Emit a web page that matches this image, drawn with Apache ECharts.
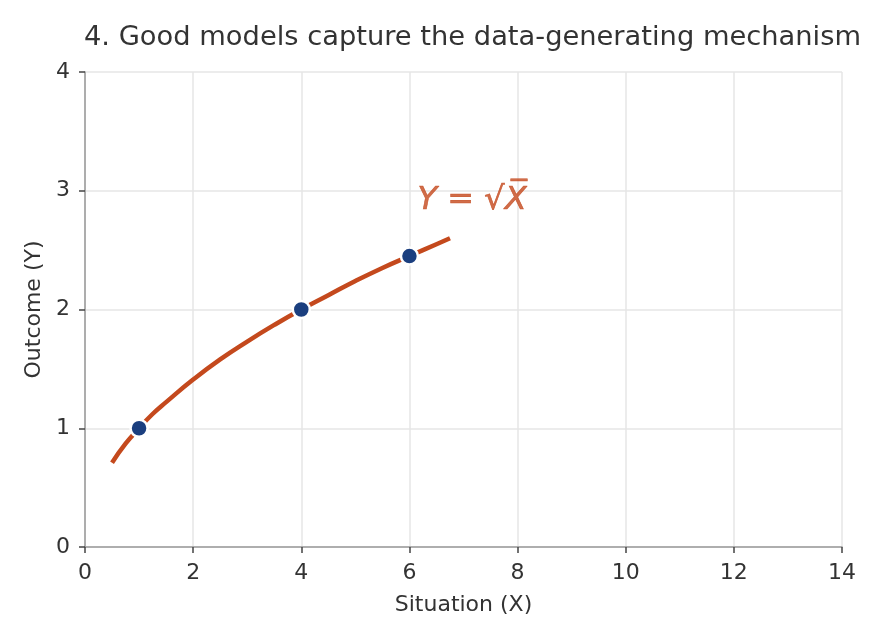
<!DOCTYPE html>
<html>
<head>
<meta charset="utf-8">
<script src="https://cdn.jsdelivr.net/npm/echarts@6/dist/echarts.min.js"></script>
<style>
  html, body { margin: 0; padding: 0; background: #fff; }
  #chart { width: 880px; height: 640px; }
</style>
</head>
<body>
<div id="chart"></div>
<script>
// curve Y = sqrt(X)
const curveX = [0.5, 0.75, 1, 1.25, 1.5, 2, 2.5, 3, 3.5, 4, 4.5, 5, 5.5, 6, 6.5, 6.75];
const curveY = [0.71, 0.87, 1.0, 1.12, 1.22, 1.41, 1.58, 1.73, 1.87, 2.0, 2.12, 2.24, 2.35, 2.45, 2.55, 2.6];
const pointX = [1, 4, 6];
const pointY = [1, 2, 2.45];
const labelPos = [6.15, 2.92];

const orange = '#c4491d';
const blue = '#1b3f7f';
const font = 'DejaVu Sans';

const chart = echarts.init(document.getElementById('chart'), null, {renderer: 'canvas'});

chart.setOption({
    animation: false,
    textStyle: {fontFamily: font},
    title: {
        text: '4. Good models capture the data-generating mechanism',
        left: 79, top: 19,
        textStyle: {fontFamily: font, fontSize: 27.3, fontWeight: 'normal', color: '#333'}
    },
    grid: {left: 85, right: 38, top: 72, bottom: 93},
    xAxis: {
        type: 'value', min: 0, max: 14, interval: 2,
        name: 'Situation (X)', nameLocation: 'middle', nameGap: 47,
        nameTextStyle: {fontSize: 22, color: '#333'},
        axisLine: {show: true, lineStyle: {color: '#999', width: 1.5}},
        axisTick: {show: true, length: 6, lineStyle: {color: '#444', width: 1.5}},
        axisLabel: {fontSize: 22, color: '#333', margin: 15},
        splitLine: {show: true, lineStyle: {color: '#e6e6e6', width: 1.5}}
    },
    yAxis: {
        type: 'value', min: 0, max: 4, interval: 1,
        name: 'Outcome (Y)', nameLocation: 'middle', nameGap: 40,
        nameTextStyle: {fontSize: 22, color: '#333'},
        axisLine: {show: true, lineStyle: {color: '#999', width: 1.5}},
        axisTick: {show: true, length: 6, lineStyle: {color: '#444', width: 1.5}},
        axisLabel: {fontSize: 22, color: '#333', margin: 15},
        splitLine: {show: true, lineStyle: {color: '#e6e6e6', width: 1.5}}
    },
    series: [
        {
            type: 'line',
            data: curveX.map((x, i) => [x, curveY[i]]),
            smooth: true,
            showSymbol: false,
            lineStyle: {color: orange, width: 4.5},
            z: 2
        },
        {
            type: 'scatter',
            data: pointX.map((x, i) => [x, pointY[i]]),
            symbolSize: 17,
            itemStyle: {color: blue, borderColor: '#fff', borderWidth: 2.5, opacity: 1},
            z: 3
        },
        {
            type: 'scatter',
            data: [labelPos],
            symbolSize: 0,
            silent: true,
            label: {
                show: true, position: 'right', distance: 0,
                formatter: '{a|Y = √}{b|X̅}',
                rich: {
                    a: {fontFamily: font, fontSize: 32, fontStyle: 'italic', color: orange,
                        textBorderColor: orange, textBorderWidth: 0.6},
                    b: {fontFamily: font, fontSize: 32, fontStyle: 'italic', color: orange,
                        textBorderColor: orange, textBorderWidth: 0.6}
                }
            }
        }
    ]
});
</script>
</body>
</html>
